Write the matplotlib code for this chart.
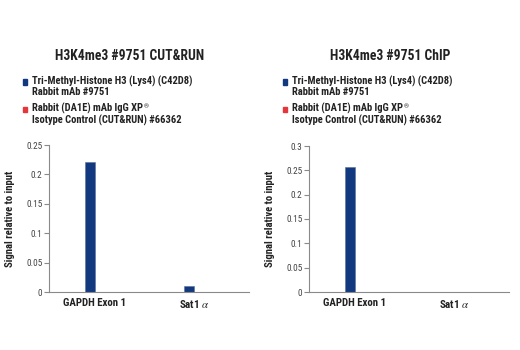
import matplotlib
matplotlib.use("Agg")
import matplotlib.pyplot as plt
from matplotlib import font_manager as fm
import numpy as np

# ---- data ----
categories = ["GAPDH Exon 1", "Sat1 $\\alpha$"]
cutrun_h3k4me3 = [0.221, 0.011]
cutrun_igg = [0.0, 0.0]
chip_h3k4me3 = [0.257, 0.0]
chip_igg = [0.0, 0.0]
titles = ["H3K4me3 #9751 CUT&RUN", "H3K4me3 #9751 ChIP"]
legend_lines = [["Tri-Methyl-Histone H3 (Lys4) (C42D8)", "Rabbit mAb #9751"],
                ["Rabbit (DA1E) mAb IgG XP", "Isotype Control (CUT&RUN) #66362"]]
yticks_left = [0, 0.05, 0.1, 0.15, 0.2, 0.25]
yticks_right = [0, 0.05, 0.1, 0.15, 0.2, 0.25, 0.3]
ylabel = "Signal relative to input"

BLUE = "#12397f"
RED = "#e5373b"
GREY = "#8a8a8a"
TXT = "#222222"

names = {f.name for f in fm.fontManager.ttflist}
FAM = "DejaVu Sans"
for cand in ["Roboto Condensed", "Archivo Narrow", "Liberation Sans Narrow",
             "PT Sans Narrow", "Fira Sans Condensed", "IBM Plex Sans Condensed"]:
    if cand in names:
        FAM = cand
        break
plt.rcParams["font.family"] = [FAM, "DejaVu Sans"]
plt.rcParams["mathtext.fontset"] = "stix"

W, H = 520, 350
fig = plt.figure(figsize=(W / 100, H / 100), dpi=100)
renderer = fig.canvas.get_renderer()


def fit_size(s, target_w, weight="bold"):
    t = fig.text(0, 0, s, fontsize=10, fontweight=weight)
    w = t.get_window_extent(renderer).width
    t.remove()
    return 10 * target_w / w


def ftxt(x, y, s, **kw):
    return fig.text(x / W, 1 - y / H, s, **kw)


fs_title = fit_size(titles[0], 149)
fs_leg = fit_size(legend_lines[0][0], 161)
fs_tick = fit_size("0.25", 16, weight="normal")
fs_xt = fit_size("GAPDH Exon 1", 63)
fs_yl = fit_size(ylabel, 97)


def px_axes(x0, y0, x1, y1):
    return fig.add_axes([x0 / W, 1 - y1 / H, (x1 - x0) / W, (y1 - y0) / H])


panels = [
    dict(ax=(49, 145, 249, 292), blue=cutrun_h3k4me3, red=cutrun_igg,
         ylim=0.25, yticks=yticks_left, off=0, title=titles[0]),
    dict(ax=(309, 146, 509, 292), blue=chip_h3k4me3, red=chip_igg,
         ylim=0.3, yticks=yticks_right, off=260, title=titles[1]),
]

x = np.arange(len(categories))
bw = 0.1
for p in panels:
    ax = px_axes(*p["ax"])
    ax.bar(x - bw / 2, p["blue"], bw, color=BLUE, edgecolor="#5b6f9a", linewidth=0.4)
    ax.bar(x + bw / 2, p["red"], bw, color=RED, linewidth=0)
    ax.set_xlim(-0.465, 1.556)
    ax.set_ylim(0, p["ylim"])
    ax.set_yticks(p["yticks"])
    ax.set_yticklabels([f"{v:g}" for v in p["yticks"]])
    ax.set_xticks(x)
    ax.set_xticklabels(categories, fontsize=fs_xt, fontweight="bold", color=TXT)
    for s in ("top", "right"):
        ax.spines[s].set_visible(False)
    for s in ("left", "bottom"):
        ax.spines[s].set_color(GREY)
        ax.spines[s].set_linewidth(0.8)
    ax.tick_params(axis="y", length=3.5, width=0.8, color=GREY, labelsize=fs_tick,
                   labelcolor="#444444", pad=1.2)
    ax.tick_params(axis="x", length=0, pad=4.5)
    ax.set_ylabel(ylabel, fontsize=fs_yl, fontweight="bold", color=TXT)
    off = p["off"]
    ax.yaxis.set_label_coords(-(p["ax"][0] - off - 10) / 200, 0.5)
    ax.yaxis.label.set_verticalalignment("center")

    ftxt(off + 130, 60, p["title"], ha="center", va="baseline",
         fontsize=fs_title, fontweight="bold", color=TXT)
    # legend
    bases = [(85, 95), (112, 123.3)]
    sq = [(79.3, 84.5), (106.7, 112)]
    for i, col in enumerate([BLUE, RED]):
        fig.patches.append(plt.Rectangle(((off + 22.7) / W, 1 - sq[i][1] / H),
                                         4 / W, (sq[i][1] - sq[i][0]) / H, color=col,
                                         transform=fig.transFigure))
        for j, line in enumerate(legend_lines[i]):
            t = ftxt(off + 32, bases[i][j], line, ha="left", va="baseline",
                     fontsize=fs_leg, fontweight="bold", color=TXT)
            if i == 1 and j == 0:
                wpx = t.get_window_extent(renderer).width
                ftxt(off + 32 + wpx + 0.5, bases[i][j] - 3.5, "®", ha="left",
                     va="baseline", fontsize=fs_leg * 0.6, color=TXT)

fig.savefig("out.png", dpi=100)
